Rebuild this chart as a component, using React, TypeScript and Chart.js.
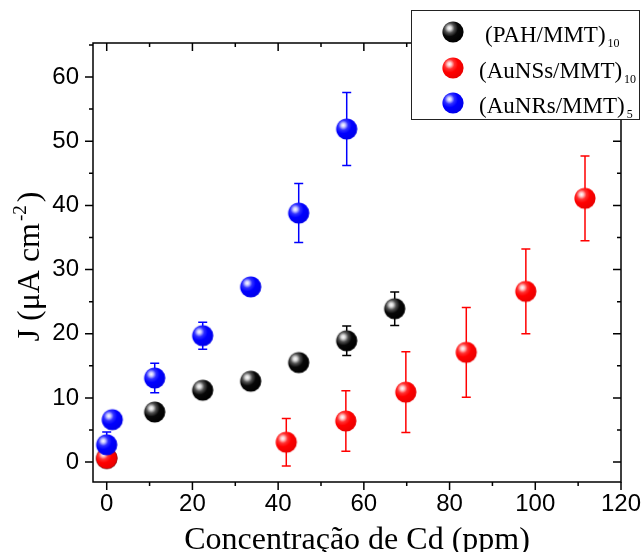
import React, { useEffect, useRef } from 'react';
import { Chart, registerables } from 'chart.js';

Chart.register(...registerables);

// ---------------- data ----------------
const pahX = [0, 11.2, 22.4, 33.6, 44.8, 56, 67.2];
const pahY = [0.6, 7.8, 11.2, 12.6, 15.5, 18.9, 23.9];
const pahErr = [0.5, 0.6, 0.6, 0.6, 0.7, 2.3, 2.6];

const nssX = [0, 41.9, 55.8, 69.8, 83.9, 97.8, 111.6];
const nssY = [0.6, 3.1, 6.4, 10.9, 17.1, 26.6, 41.1];
const nssErr = [1.0, 3.7, 4.7, 6.3, 7.0, 6.6, 6.6];

const nrsX = [0, 1.3, 11.2, 22.4, 33.6, 44.8, 56];
const nrsY = [2.7, 6.6, 13.1, 19.7, 27.3, 38.8, 51.9];
const nrsErr = [2.0, 0.6, 2.3, 2.1, 0.6, 4.6, 5.7];

const seriesNames = ['(PAH/MMT)', '(AuNSs/MMT)', '(AuNRs/MMT)'];
const seriesSubs = ['10', '10', '5'];
const seriesColors = ['#000000', '#ff0000', '#0000ff'];

const xTicks = [0, 20, 40, 60, 80, 100, 120];
const xMinorTicks = [10, 30, 50, 70, 90, 110];
const yTicks = [0, 10, 20, 30, 40, 50, 60];
const yMinorTicks = [5, 15, 25, 35, 45, 55, 65];

const xTitle = 'Concentração de Cd (ppm)';
const yTitleMain = 'J (μA cm';
const yTitleSup = '-2';
const yTitleTail = ')';

const SERIF = '"Liberation Serif", "Times New Roman", serif';
const SANS = '"Liberation Sans", Arial, sans-serif';

// ---------------- sphere marker ----------------
const sphereStops: Record<string, [number, string][]> = {
  '#000000': [[0, '#ffffff'], [0.13, '#d8d8d8'], [0.32, '#505050'], [0.55, '#080808'], [1, '#000000']],
  '#ff0000': [[0, '#ffffff'], [0.13, '#ffc8c8'], [0.32, '#ff3030'], [0.55, '#ff0000'], [1, '#e80000']],
  '#0000ff': [[0, '#ffffff'], [0.13, '#c8c8ff'], [0.32, '#3030ff'], [0.55, '#0000ff'], [1, '#0000e8']],
};

function makeSphere(color: string, r: number): HTMLCanvasElement {
  const size = Math.ceil(r * 2) + 2;
  const c = document.createElement('canvas');
  c.width = size;
  c.height = size;
  const ctx = c.getContext('2d')!;
  const cx = size / 2;
  const cy = size / 2;
  const hx = cx - r * 0.33;
  const hy = cy - r * 0.36;
  const g = ctx.createRadialGradient(hx, hy, 0, hx, hy, r * 1.45);
  for (const [o, col] of sphereStops[color]) g.addColorStop(o, col);
  ctx.beginPath();
  ctx.arc(cx, cy, r, 0, Math.PI * 2);
  ctx.fillStyle = g;
  ctx.fill();
  return c;
}

// ---------------- plugins ----------------
const errorBarPlugin = {
  id: 'errorBars',
  beforeDatasetsDraw(chart: any) {
    const ctx = chart.ctx;
    const ys = chart.scales.y;
    chart.data.datasets.forEach((ds: any, i: number) => {
      const meta = chart.getDatasetMeta(i);
      ctx.save();
      ctx.strokeStyle = seriesColors[i];
      ctx.lineWidth = 1.5;
      meta.data.forEach((pt: any, j: number) => {
        const raw = ds.data[j];
        const top = ys.getPixelForValue(raw.y + raw.err);
        const bot = ys.getPixelForValue(raw.y - raw.err);
        const x = pt.x;
        ctx.beginPath();
        ctx.moveTo(x, top);
        ctx.lineTo(x, bot);
        ctx.moveTo(x - 4.5, top);
        ctx.lineTo(x + 4.5, top);
        ctx.moveTo(x - 4.5, bot);
        ctx.lineTo(x + 4.5, bot);
        ctx.stroke();
      });
      ctx.restore();
    });
  },
};

const framePlugin = {
  id: 'frame',
  afterDatasetsDraw(chart: any) {
    const ctx = chart.ctx;
    const { left, right, top, bottom } = chart.chartArea;
    const xs = chart.scales.x;
    const ys = chart.scales.y;
    ctx.save();
    ctx.strokeStyle = '#000';
    ctx.lineWidth = 1.5;
    ctx.beginPath();
    ctx.rect(left, top, right - left, bottom - top);
    ctx.stroke();
    ctx.beginPath();
    const major = 8;
    const minor = 4;
    const xt = (v: number, len: number) => {
      const p = xs.getPixelForValue(v);
      ctx.moveTo(p, bottom);
      ctx.lineTo(p, bottom + len);
      ctx.moveTo(p, top);
      ctx.lineTo(p, top + len);
    };
    const yt = (v: number, len: number) => {
      if (v < ys.min || v > ys.max) return;
      const p = ys.getPixelForValue(v);
      ctx.moveTo(left, p);
      ctx.lineTo(left - len, p);
      ctx.moveTo(right, p);
      ctx.lineTo(right - len, p);
    };
    xTicks.forEach((v) => xt(v, major));
    xMinorTicks.forEach((v) => xt(v, minor));
    yTicks.forEach((v) => yt(v, major));
    yMinorTicks.forEach((v) => yt(v, minor));
    ctx.stroke();
    ctx.restore();
  },
};

const titlePlugin = {
  id: 'axisTitles',
  afterDraw(chart: any) {
    const ctx = chart.ctx;
    const { left, right, top, bottom } = chart.chartArea;
    ctx.save();
    ctx.fillStyle = '#000';
    // x title
    ctx.font = `32px ${SERIF}`;
    ctx.textAlign = 'center';
    ctx.textBaseline = 'alphabetic';
    ctx.fillText(xTitle, (left + right) / 2, 549);
    // y title
    ctx.translate(39, (top + bottom) / 2 + 4);
    ctx.rotate(-Math.PI / 2);
    ctx.textAlign = 'left';
    ctx.font = `32px ${SERIF}`;
    const w1 = ctx.measureText(yTitleMain).width;
    ctx.font = `19px ${SERIF}`;
    const w2 = ctx.measureText(yTitleSup).width;
    ctx.font = `32px ${SERIF}`;
    const w3 = ctx.measureText(yTitleTail).width;
    const total = w1 + 2 + w2 + 3 + w3;
    let x0 = -total / 2;
    ctx.fillText(yTitleMain, x0, 0);
    x0 += w1 + 2;
    ctx.font = `19px ${SERIF}`;
    ctx.fillText(yTitleSup, x0, -13);
    x0 += w2 + 3;
    ctx.font = `32px ${SERIF}`;
    ctx.fillText(yTitleTail, x0, 0);
    ctx.restore();
  },
};

const legendPlugin = {
  id: 'boxLegend',
  afterDraw(chart: any) {
    const ctx = chart.ctx;
    ctx.save();
    const bx = 411.5;
    const by = 10.5;
    const bw = 228;
    const bh = 109;
    ctx.fillStyle = '#ffffff';
    ctx.fillRect(bx, by, bw, bh);
    ctx.strokeStyle = '#222';
    ctx.lineWidth = 1;
    ctx.strokeRect(bx, by, bw, bh);
    const baselines = [42, 78, 113];
    const textX = [485, 479, 479];
    seriesNames.forEach((name, i) => {
      const sphere = chart.data.datasets[i].pointStyle as HTMLCanvasElement;
      ctx.drawImage(sphere, 453 - sphere.width / 2, baselines[i] - 10 - sphere.height / 2);
      ctx.fillStyle = '#000';
      ctx.font = `23px ${SERIF}`;
      ctx.textAlign = 'left';
      ctx.textBaseline = 'alphabetic';
      ctx.fillText(name, textX[i], baselines[i]);
      const w = ctx.measureText(name).width;
      ctx.font = `12px ${SERIF}`;
      ctx.fillText(seriesSubs[i], textX[i] + w + 2, baselines[i] + 5);
    });
    ctx.restore();
  },
};

function toPoints(xs: number[], ys: number[], es: number[]) {
  return xs.map((x, i) => ({ x, y: ys[i], err: es[i] }));
}

export default function App() {
  const ref = useRef<HTMLCanvasElement>(null);

  useEffect(() => {
    document.body.style.margin = '0';
    const canvas = ref.current!;
    const spheres = seriesColors.map((c) => makeSphere(c, 10.6));
    const chart = new Chart(canvas, {
      type: 'scatter',
      data: {
        datasets: [
          { label: seriesNames[0], order: 3, data: toPoints(pahX, pahY, pahErr) as any, pointStyle: spheres[0] as any, clip: false as any },
          { label: seriesNames[1], order: 2, data: toPoints(nssX, nssY, nssErr) as any, pointStyle: spheres[1] as any, clip: false as any },
          { label: seriesNames[2], order: 1, data: toPoints(nrsX, nrsY, nrsErr) as any, pointStyle: spheres[2] as any, clip: false as any },
        ],
      },
      options: {
        animation: false,
        responsive: false,
        maintainAspectRatio: false,
        layout: { padding: { left: 0, right: 23, top: 43, bottom: 0 } },
        plugins: { legend: { display: false }, tooltip: { enabled: false }, title: { display: false } },
        scales: {
          x: {
            type: 'linear',
            min: -3.2,
            max: 120,
            afterBuildTicks: (s: any) => {
              s.ticks = xTicks.map((v) => ({ value: v }));
            },
            afterFit: (s: any) => {
              s.height = 70;
            },
            ticks: {
              font: { family: SANS, size: 24 },
              color: '#000',
              padding: 0,
              maxRotation: 0,
              autoSkip: false,
            },
            grid: { drawOnChartArea: false, color: 'rgba(0,0,0,0)', tickLength: 8 },
            border: { display: false },
          },
          y: {
            type: 'linear',
            min: -3.1,
            max: 65.3,
            afterBuildTicks: (s: any) => {
              s.ticks = yTicks.map((v) => ({ value: v }));
            },
            afterFit: (s: any) => {
              s.width = 93;
            },
            ticks: {
              font: { family: SANS, size: 24 },
              color: '#000',
              padding: 6,
              autoSkip: false,
            },
            grid: { drawOnChartArea: false, color: 'rgba(0,0,0,0)', tickLength: 8 },
            border: { display: false },
          },
        },
      },
      plugins: [errorBarPlugin, framePlugin, titlePlugin, legendPlugin],
    });
    return () => chart.destroy();
  }, []);

  return (
    <div style={{ width: 644, height: 552, position: 'relative', background: '#fff' }}>
      <canvas ref={ref} width={644} height={552} style={{ display: 'block' }} />
    </div>
  );
}
